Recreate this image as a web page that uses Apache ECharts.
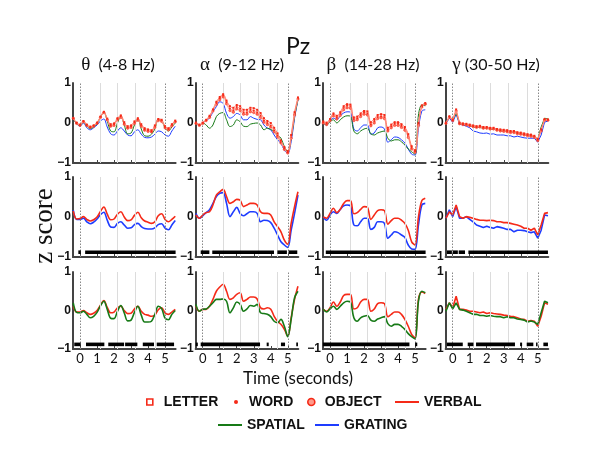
<!DOCTYPE html>
<html><head><meta charset="utf-8">
<script src="https://cdn.jsdelivr.net/npm/echarts@6/dist/echarts.min.js"></script>
<style>html,body{margin:0;padding:0;background:#fff}#c{width:600px;height:464px}</style>
</head><body><div id="c"></div>
<script>
// ---------- data ----------
const T = [-0.4,-0.2,0,0.2,0.4,0.6,0.8,1.0,1.2,1.4,1.6,1.8,2.0,2.2,2.4,2.6,2.8,3.0,3.2,3.4,3.6,3.8,4.0,4.2,4.4,4.6,4.8,5.0,5.2,5.4,5.6];
const X_TICKS = [0,1,2,3,4,5];
const Y_TICKS = [-1,0,1];
const COL_TITLES = [['θ','  (4-8 Hz)'],['α','  (9-12 Hz)'],['β','  (14-28 Hz)'],['γ',' (30-50 Hz)']];
const EVENT_LINES = [0,5];
const GUIDE_LINES = [1.2,2.2,3.25,4.4];
const SIG_LEVEL = -0.88;

// theta
const theta1Letter  = [0.12,0.01,-0.04,0.05,-0.04,-0.09,-0.06,0.01,0.16,0.28,0.11,-0.03,-0.01,0.12,0.19,0.02,-0.08,-0.06,0.04,0.12,-0.03,-0.13,-0.16,-0.18,-0.06,0.1,0.08,-0.08,-0.13,-0.03,0.06];
const theta1Word    = [0.11,0.0,-0.05,0.04,-0.05,-0.1,-0.07,0.0,0.15,0.27,0.09,-0.06,-0.04,0.1,0.16,-0.01,-0.11,-0.09,0.01,0.09,-0.06,-0.16,-0.19,-0.21,-0.09,0.08,0.06,-0.1,-0.15,-0.05,0.04];
const theta1Object  = [0.12,-0.01,-0.06,0.03,-0.06,-0.11,-0.08,-0.01,0.14,0.26,0.08,-0.08,-0.06,0.08,0.14,-0.03,-0.13,-0.11,-0.01,0.07,-0.08,-0.18,-0.21,-0.22,-0.11,0.06,0.04,-0.12,-0.17,-0.07,0.03];
const theta1Spatial = [0.12,-0.02,-0.06,0.03,-0.08,-0.14,-0.1,-0.02,0.14,0.27,0.05,-0.2,-0.22,0.0,0.17,-0.05,-0.27,-0.25,-0.05,0.1,-0.15,-0.32,-0.33,-0.28,-0.15,0.08,0.06,-0.13,-0.2,-0.1,0.0];
const theta1Grating = [0.12,-0.02,-0.08,0.0,-0.12,-0.17,-0.12,-0.05,0.05,0.1,-0.1,-0.27,-0.3,-0.2,-0.12,-0.2,-0.3,-0.32,-0.22,-0.17,-0.28,-0.36,-0.37,-0.35,-0.28,-0.2,-0.22,-0.3,-0.33,-0.2,-0.08];
const theta2Verbal  = [0.15,-0.05,-0.04,0.01,-0.06,-0.1,-0.07,0.0,0.14,0.25,0.07,-0.07,-0.05,0.07,0.13,0.0,-0.09,-0.07,0.04,0.12,-0.02,-0.1,-0.13,-0.16,-0.12,0.03,0.08,-0.06,-0.12,-0.06,0.02];
const theta2Grating = [0.17,-0.06,-0.06,-0.03,-0.12,-0.17,-0.13,-0.05,0.06,0.12,-0.08,-0.25,-0.26,-0.16,-0.12,-0.2,-0.28,-0.27,-0.19,-0.16,-0.24,-0.29,-0.3,-0.3,-0.27,-0.19,-0.17,-0.28,-0.32,-0.2,-0.09];
const theta3Verbal  = [0.11,-0.04,-0.04,0.0,-0.06,-0.1,-0.07,0.0,0.14,0.26,0.08,-0.06,-0.04,0.07,0.11,0.0,-0.08,-0.07,0.04,0.11,-0.02,-0.1,-0.12,-0.15,-0.12,0.02,0.07,-0.06,-0.1,-0.04,0.03];
const theta3Spatial = [0.2,-0.05,-0.06,-0.02,-0.1,-0.19,-0.15,-0.05,0.12,0.24,0.03,-0.2,-0.21,-0.02,0.13,-0.06,-0.27,-0.25,-0.05,0.11,-0.12,-0.3,-0.3,-0.28,-0.1,0.11,0.05,-0.2,-0.24,-0.1,0.0];
// alpha
const alpha1Letter  = [0.01,-0.04,0.01,0.08,0.18,0.34,0.53,0.65,0.72,0.56,0.42,0.38,0.45,0.42,0.33,0.33,0.38,0.37,0.33,0.25,0.12,0.05,0.0,-0.12,-0.26,-0.44,-0.6,-0.7,-0.3,0.27,0.64];
const alpha1Word    = [0.0,-0.05,0.0,0.07,0.16,0.32,0.5,0.62,0.69,0.52,0.36,0.32,0.4,0.36,0.27,0.27,0.33,0.31,0.27,0.19,0.06,0.0,-0.06,-0.18,-0.31,-0.48,-0.64,-0.73,-0.35,0.23,0.61];
const alpha1Object  = [-0.01,-0.06,-0.01,0.06,0.14,0.3,0.47,0.58,0.65,0.48,0.31,0.27,0.35,0.31,0.22,0.22,0.28,0.26,0.22,0.14,0.02,-0.04,-0.1,-0.22,-0.35,-0.5,-0.66,-0.75,-0.38,0.2,0.6];
const alpha1Spatial = [0.0,-0.05,0.0,-0.05,-0.13,-0.05,0.16,0.24,0.26,0.08,-0.09,-0.05,0.08,0.03,-0.08,-0.09,-0.03,-0.01,0.0,-0.05,-0.17,-0.13,-0.16,-0.22,-0.3,-0.38,-0.59,-0.72,-0.38,0.16,0.58];
const alpha1Grating = [0.0,-0.05,0.0,0.07,0.12,0.28,0.41,0.53,0.49,0.24,0.12,0.16,0.24,0.2,0.08,0.08,0.16,0.12,0.09,0.08,-0.05,-0.13,-0.17,-0.3,-0.42,-0.51,-0.68,-0.76,-0.47,0.12,0.58];
const alpha2Verbal  = [0.05,-0.03,0.05,0.11,0.13,0.3,0.55,0.63,0.69,0.51,0.34,0.38,0.44,0.42,0.26,0.3,0.34,0.34,0.3,0.13,0.09,0.09,0.05,-0.12,-0.24,-0.37,-0.58,-0.68,-0.16,0.26,0.63];
const alpha2Grating = [0.09,-0.03,0.03,0.11,0.18,0.34,0.51,0.59,0.61,0.34,0.01,0.13,0.24,0.09,0.03,0.08,0.13,0.13,0.09,-0.12,-0.08,-0.09,-0.14,-0.28,-0.45,-0.62,-0.7,-0.76,-0.33,0.09,0.55];
const alpha3Verbal  = [0.11,-0.02,0.03,0.03,0.11,0.29,0.5,0.61,0.68,0.5,0.29,0.33,0.42,0.46,0.24,0.29,0.35,0.35,0.3,0.07,0.04,0.07,0.03,-0.15,-0.28,-0.36,-0.49,-0.67,-0.19,0.29,0.63];
const alpha3Spatial = [0.16,-0.02,0.03,0.04,0.11,0.2,0.29,0.29,0.3,0.24,-0.06,0.07,0.22,0.16,-0.02,0.04,0.13,0.11,0.16,-0.06,-0.08,-0.1,-0.16,-0.28,-0.32,-0.23,-0.41,-0.68,-0.23,0.33,0.5];
// beta
const beta1Letter   = [0.04,0.01,0.1,0.24,0.18,0.27,0.42,0.47,0.46,0.14,0.16,0.24,0.3,0.29,0.02,0.1,0.2,0.22,0.2,-0.12,-0.04,0.02,0.02,-0.03,-0.1,-0.28,-0.58,-0.68,0.0,0.44,0.5];
const beta1Word     = [0.02,-0.02,0.08,0.21,0.14,0.23,0.38,0.43,0.42,0.1,0.12,0.2,0.26,0.24,-0.03,0.05,0.15,0.17,0.15,-0.16,-0.08,-0.02,-0.02,-0.07,-0.14,-0.32,-0.62,-0.7,-0.03,0.42,0.48];
const beta1Object   = [0.0,-0.04,0.06,0.18,0.1,0.19,0.33,0.38,0.37,0.06,0.08,0.16,0.22,0.2,-0.07,0.0,0.11,0.13,0.11,-0.2,-0.12,-0.06,-0.06,-0.11,-0.18,-0.36,-0.65,-0.73,-0.06,0.4,0.47];
const beta1Spatial  = [0.0,-0.05,0.03,0.08,0.0,0.08,0.15,0.18,0.17,-0.2,-0.27,-0.2,-0.15,-0.13,-0.27,-0.3,-0.25,-0.22,-0.2,-0.38,-0.45,-0.42,-0.42,-0.47,-0.55,-0.65,-0.72,-0.78,0.2,0.45,0.43];
const beta1Grating  = [0.0,-0.05,0.05,0.12,0.08,0.18,0.25,0.28,0.27,-0.15,-0.2,-0.12,-0.05,-0.05,-0.28,-0.25,-0.12,-0.1,-0.15,-0.48,-0.42,-0.35,-0.36,-0.42,-0.5,-0.65,-0.78,-0.8,-0.15,0.3,0.33];
const beta2Verbal   = [0.0,-0.03,0.09,0.22,0.11,0.19,0.34,0.41,0.41,0.08,0.11,0.19,0.26,0.24,-0.06,0.05,0.16,0.18,0.16,-0.18,-0.09,-0.03,-0.03,-0.08,-0.16,-0.33,-0.62,-0.7,0.0,0.41,0.47];
const beta2Grating  = [0.0,-0.08,0.05,0.13,0.09,0.19,0.28,0.3,0.28,-0.2,-0.22,-0.12,-0.03,-0.03,-0.31,-0.26,-0.12,-0.12,-0.16,-0.53,-0.45,-0.37,-0.39,-0.45,-0.51,-0.7,-0.8,-0.81,-0.2,0.3,0.34];
const beta3Verbal   = [0.03,-0.02,0.07,0.22,0.11,0.22,0.39,0.42,0.42,0.04,0.07,0.22,0.29,0.29,-0.02,0.04,0.18,0.2,0.18,-0.16,-0.1,-0.04,-0.04,-0.1,-0.23,-0.41,-0.62,-0.71,0.29,0.48,0.44];
const beta3Spatial  = [0.03,-0.04,0.04,0.11,0.03,0.11,0.2,0.24,0.22,-0.19,-0.28,-0.19,-0.15,-0.13,-0.25,-0.28,-0.22,-0.19,-0.16,-0.34,-0.41,-0.36,-0.36,-0.41,-0.49,-0.6,-0.68,-0.74,0.24,0.5,0.46];
// gamma
const gamma1Letter  = [0.01,0.17,0.09,0.34,0.01,-0.01,-0.02,-0.04,-0.06,-0.08,-0.07,-0.1,-0.1,-0.12,-0.12,-0.15,-0.16,-0.17,-0.18,-0.2,-0.2,-0.23,-0.24,-0.26,-0.28,-0.29,-0.32,-0.4,-0.16,0.1,0.09];
const gamma1Word    = [0.0,0.15,0.07,0.31,-0.01,-0.03,-0.04,-0.06,-0.08,-0.1,-0.09,-0.12,-0.12,-0.14,-0.14,-0.17,-0.18,-0.19,-0.2,-0.22,-0.22,-0.25,-0.26,-0.28,-0.3,-0.31,-0.34,-0.42,-0.18,0.08,0.08];
const gamma1Object  = [-0.01,0.14,0.06,0.3,-0.02,-0.04,-0.05,-0.07,-0.09,-0.11,-0.1,-0.13,-0.13,-0.15,-0.15,-0.18,-0.2,-0.21,-0.22,-0.24,-0.24,-0.27,-0.28,-0.3,-0.32,-0.33,-0.36,-0.44,-0.2,0.07,0.07];
const gamma1Spatial = [0.0,0.15,0.06,0.25,0.0,-0.03,-0.05,-0.07,-0.1,-0.11,-0.11,-0.13,-0.13,-0.15,-0.16,-0.17,-0.19,-0.2,-0.2,-0.22,-0.23,-0.24,-0.28,-0.28,-0.3,-0.31,-0.35,-0.4,-0.1,0.12,0.1];
const gamma1Grating = [-0.02,0.12,0.02,0.22,-0.03,-0.05,-0.08,-0.12,-0.2,-0.22,-0.25,-0.26,-0.25,-0.28,-0.27,-0.3,-0.3,-0.3,-0.32,-0.32,-0.35,-0.33,-0.35,-0.37,-0.38,-0.38,-0.38,-0.48,-0.3,0.02,0.05];
const gamma2Verbal  = [-0.03,0.13,0.05,0.3,0.01,-0.03,0.01,-0.01,-0.03,-0.06,-0.08,-0.08,-0.09,-0.08,-0.09,-0.12,-0.12,-0.14,-0.14,-0.16,-0.18,-0.2,-0.23,-0.28,-0.28,-0.33,-0.28,-0.45,-0.2,0.09,0.11];
const gamma2Grating = [-0.03,0.18,0.01,0.26,-0.03,-0.03,0.01,-0.06,-0.12,-0.2,-0.23,-0.26,-0.23,-0.26,-0.28,-0.24,-0.26,-0.28,-0.31,-0.31,-0.37,-0.33,-0.33,-0.34,-0.37,-0.39,-0.37,-0.53,-0.33,0.05,0.03];
const gamma3Verbal  = [0.03,0.2,0.07,0.37,0.03,0.03,0.01,-0.02,-0.02,-0.04,-0.06,-0.04,-0.08,-0.06,-0.08,-0.09,-0.1,-0.12,-0.13,-0.15,-0.16,-0.19,-0.22,-0.23,-0.28,-0.26,-0.28,-0.41,-0.15,0.2,0.16];
const gamma3Spatial = [-0.02,0.2,0.04,0.2,0.03,0.01,-0.02,-0.06,-0.1,-0.1,-0.13,-0.13,-0.15,-0.13,-0.15,-0.16,-0.16,-0.19,-0.16,-0.19,-0.19,-0.22,-0.23,-0.25,-0.3,-0.27,-0.3,-0.36,-0.06,0.24,0.2];

// significance intervals [start, end] in seconds
const sigTheta2 = [[-0.1,0.05],[0.3,5.62]];
const sigAlpha2 = [[-0.12,0.39],[0.56,4.19],[4.39,4.95],[5.05,5.56]];
const sigBeta2  = [[-0.25,5.62]];
const sigGamma2 = [[-0.34,-0.05],[0.0,0.3],[0.35,0.72],[0.92,5.6]];
const sigTheta3 = [[-0.34,0.04],[0.35,1.43],[1.66,2.59],[2.65,3.37],[3.69,4.35],[4.51,5.53]];
const sigAlpha3 = [[-0.41,-0.29],[-0.12,3.37],[3.76,3.88],[4.6,4.84],[5.5,5.6]];
const sigBeta3  = [[-0.42,4.67],[5.0,5.13]];
const sigGamma3 = [[-0.35,0.59],[0.88,1.22],[1.37,3.66],[3.96,4.08],[4.35,4.74],[4.9,4.98],[5.33,5.6]];

// ---------- layout ----------
const COL_LEFT = [72.9,195.6,322.9,445.6];
const COL_W = 102.7;
const ROW_TOP = [83,177,272];
const ROW_H = [80,80,77];
const X_MIN = -0.42, X_MAX = 5.62;

const RED = '#f52a18', GREEN = '#177a17', BLUE = '#1e3cff';

const PANELS = [
  {r:0,c:0,smooth:true, lines:[['GRATING',theta1Grating],['SPATIAL',theta1Spatial],['OBJECT',theta1Object],['WORD',theta1Word],['LETTER',theta1Letter]], sig:null},
  {r:0,c:1,smooth:true, lines:[['GRATING',alpha1Grating],['SPATIAL',alpha1Spatial],['OBJECT',alpha1Object],['WORD',alpha1Word],['LETTER',alpha1Letter]], sig:null},
  {r:0,c:2,smooth:true, lines:[['GRATING',beta1Grating],['SPATIAL',beta1Spatial],['OBJECT',beta1Object],['WORD',beta1Word],['LETTER',beta1Letter]], sig:null},
  {r:0,c:3,smooth:false,lines:[['GRATING',gamma1Grating],['SPATIAL',gamma1Spatial],['OBJECT',gamma1Object],['WORD',gamma1Word],['LETTER',gamma1Letter]], sig:null},
  {r:1,c:0,smooth:true, lines:[['GRATING',theta2Grating],['VERBAL',theta2Verbal]], sig:sigTheta2},
  {r:1,c:1,smooth:true, lines:[['GRATING',alpha2Grating],['VERBAL',alpha2Verbal]], sig:sigAlpha2},
  {r:1,c:2,smooth:true, lines:[['GRATING',beta2Grating],['VERBAL',beta2Verbal]], sig:sigBeta2},
  {r:1,c:3,smooth:false,lines:[['GRATING',gamma2Grating],['VERBAL',gamma2Verbal]], sig:sigGamma2},
  {r:2,c:0,smooth:true, lines:[['VERBAL',theta3Verbal],['SPATIAL',theta3Spatial]], sig:sigTheta3},
  {r:2,c:1,smooth:true, lines:[['VERBAL',alpha3Verbal],['SPATIAL',alpha3Spatial]], sig:sigAlpha3},
  {r:2,c:2,smooth:true, lines:[['VERBAL',beta3Verbal],['SPATIAL',beta3Spatial]], sig:sigBeta3},
  {r:2,c:3,smooth:false,lines:[['VERBAL',gamma3Verbal],['SPATIAL',gamma3Spatial]], sig:sigGamma3}
];

function lineStyleFor(name, row){
  const thin = row === 0;
  switch(name){
    case 'LETTER': return {symbol:'rect', symbolSize:2, showSymbol:true, showAllSymbol:true,
      itemStyle:{color:RED, borderColor:RED, borderWidth:0}, lineStyle:{color:'#ff8070', width:1}};
    case 'WORD': return {symbol:'circle', symbolSize:2, showSymbol:true, showAllSymbol:true,
      itemStyle:{color:RED}, lineStyle:{color:'#ff9080', width:0.9}};
    case 'OBJECT': return {symbol:'circle', symbolSize:2.4, showSymbol:true, showAllSymbol:true,
      itemStyle:{color:'#ff7060', borderColor:RED, borderWidth:0.5}, lineStyle:{color:'#ff9080', width:0.9}};
    case 'VERBAL': return {symbol:'none', showSymbol:false, itemStyle:{color:RED}, lineStyle:{color:RED, width:1.6}};
    case 'SPATIAL': return {symbol:'none', showSymbol:false, itemStyle:{color:GREEN}, lineStyle:{color:GREEN, width: thin?1:1.6}};
    case 'GRATING': return {symbol:'none', showSymbol:false, itemStyle:{color:BLUE}, lineStyle:{color:BLUE, width: thin?1:1.6}};
  }
}

const grids = [], xAxes = [], yAxes = [], series = [];
PANELS.forEach((p, i) => {
  grids.push({left: COL_LEFT[p.c], top: ROW_TOP[p.r], width: COL_W, height: ROW_H[p.r], containLabel:false});
  xAxes.push({
    type:'value', gridIndex:i, min:X_MIN, max:X_MAX,
    axisLine:{show:true, onZero:false, lineStyle:{color:'#444', width:2}},
    axisTick:{show:true, inside:true, length:3, customValues:X_TICKS, lineStyle:{color:'#444', width:1}},
    axisLabel:{show:p.r===2, customValues:X_TICKS, color:'#111', fontSize:13, fontFamily:'Lato', margin:3},
    splitLine:{show:false}
  });
  yAxes.push({
    type:'value', gridIndex:i, min:-1, max:1, interval:1,
    axisLine:{show:true, onZero:false, lineStyle:{color:'#444', width:2}},
    axisTick:{show:false},
    axisLabel:{show:true, color:'#111', fontSize:12, fontWeight:'bold', fontFamily:'Liberation Sans', margin:2,
      formatter: v => v < 0 ? '\u2212' + Math.abs(v) : String(v)},
    splitLine:{show:false}
  });
  // guide lines (behind)
  series.push({
    type:'line', name:'_guide'+i, xAxisIndex:i, yAxisIndex:i, data: T.map((t,k)=>[t, p.lines[0][1][k]]),
    symbol:'none', lineStyle:{opacity:0}, silent:true, z:1, legendHoverLink:false,
    markLine:{silent:true, symbol:'none', label:{show:false}, animation:false,
      data: GUIDE_LINES.map(v => ({xAxis:v, lineStyle:{color:'#dcdcdc', type:'solid', width:1}}))
        .concat(EVENT_LINES.map(v => ({xAxis:v, lineStyle:{color:'#888', type:[1.5,1.5], width:1}})))}
  });
  p.lines.forEach(([name, vals], k) => {
    series.push(Object.assign({
      type:'line', name:name, xAxisIndex:i, yAxisIndex:i, z:3+k,
      data: T.map((t,j)=>[t, vals[j]]), smooth: p.smooth ? 0.35 : false, animation:false
    }, lineStyleFor(name, p.r)));
  });
  if (p.sig) {
    series.push({
      type:'custom', name:'_sig'+i, xAxisIndex:i, yAxisIndex:i, z:10, data:p.sig,
      encode:{x:[0,1]},
      renderItem:(params, api) => {
        const a = api.coord([api.value(0), SIG_LEVEL]);
        const b = api.coord([api.value(1), SIG_LEVEL]);
        return {type:'rect', shape:{x:a[0], y:a[1]-1.8, width:Math.max(1.5,b[0]-a[0]), height:3.6}, style:{fill:'#000'}};
      }
    });
  }
});

const legendText = {color:'#111', fontSize:14, fontWeight:'bold', fontFamily:'Liberation Sans', lineHeight:14};
function leg(item, left, top, w, h, pad){
  return {data:[item], left:left, top:top, itemWidth:w, itemHeight:h, padding:0, selectedMode:false,
    textStyle:Object.assign({padding:[0,0,0,pad]}, legendText)};
}
const legends = [
  leg({name:'LETTER', icon:'rect', itemStyle:{color:'#fff', borderColor:RED, borderWidth:1.6}}, 146, 395, 6, 6, 6),
  leg({name:'WORD', icon:'circle', itemStyle:{color:RED}}, 234, 395, 4, 4, 6),
  leg({name:'OBJECT', icon:'circle', itemStyle:{color:'#ff9a8a', borderColor:RED, borderWidth:1.6}}, 307, 395, 7, 7, 5),
  leg({name:'VERBAL', icon:'rect', itemStyle:{color:RED}}, 395, 395, 24, 2, 0),
  leg({name:'SPATIAL', icon:'rect', itemStyle:{color:GREEN}}, 218, 418, 24, 2, 0),
  leg({name:'GRATING', icon:'rect', itemStyle:{color:BLUE}}, 315, 418, 24, 2, 0)
];

const colCenters = [118, 242, 373, 496];
const graphics = [
  {type:'text', x:298, y:47, style:{text:'Pz', font:'23px Lato', fill:'#111', align:'center', verticalAlign:'middle'}},
  {type:'text', x:298, y:379, style:{text:'Time (seconds)', font:'17px Lato', fill:'#111', align:'center', verticalAlign:'middle'}},
  {type:'text', x:45, y:226, rotation:Math.PI/2, style:{text:'z score', font:'27px "Liberation Serif"', fill:'#111', align:'center', verticalAlign:'middle'}}
];
COL_TITLES.forEach((tt, c) => {
  graphics.push({type:'text', x:colCenters[c], y:65, style:{
    text:'{g|' + tt[0] + '}{s|' + tt[1] + '}', align:'center', verticalAlign:'middle', fill:'#111',
    rich:{g:{font:'19px "Liberation Serif"', fill:'#111'}, s:{font:'16px Lato', fill:'#111'}}
  }});
});

const chart = echarts.init(document.getElementById('c'), null, {renderer:'canvas'});
chart.setOption({
  animation:false,
  backgroundColor:'#fff',
  grid:grids, xAxis:xAxes, yAxis:yAxes, series:series,
  legend:legends, graphic:graphics
});
</script></body></html>
